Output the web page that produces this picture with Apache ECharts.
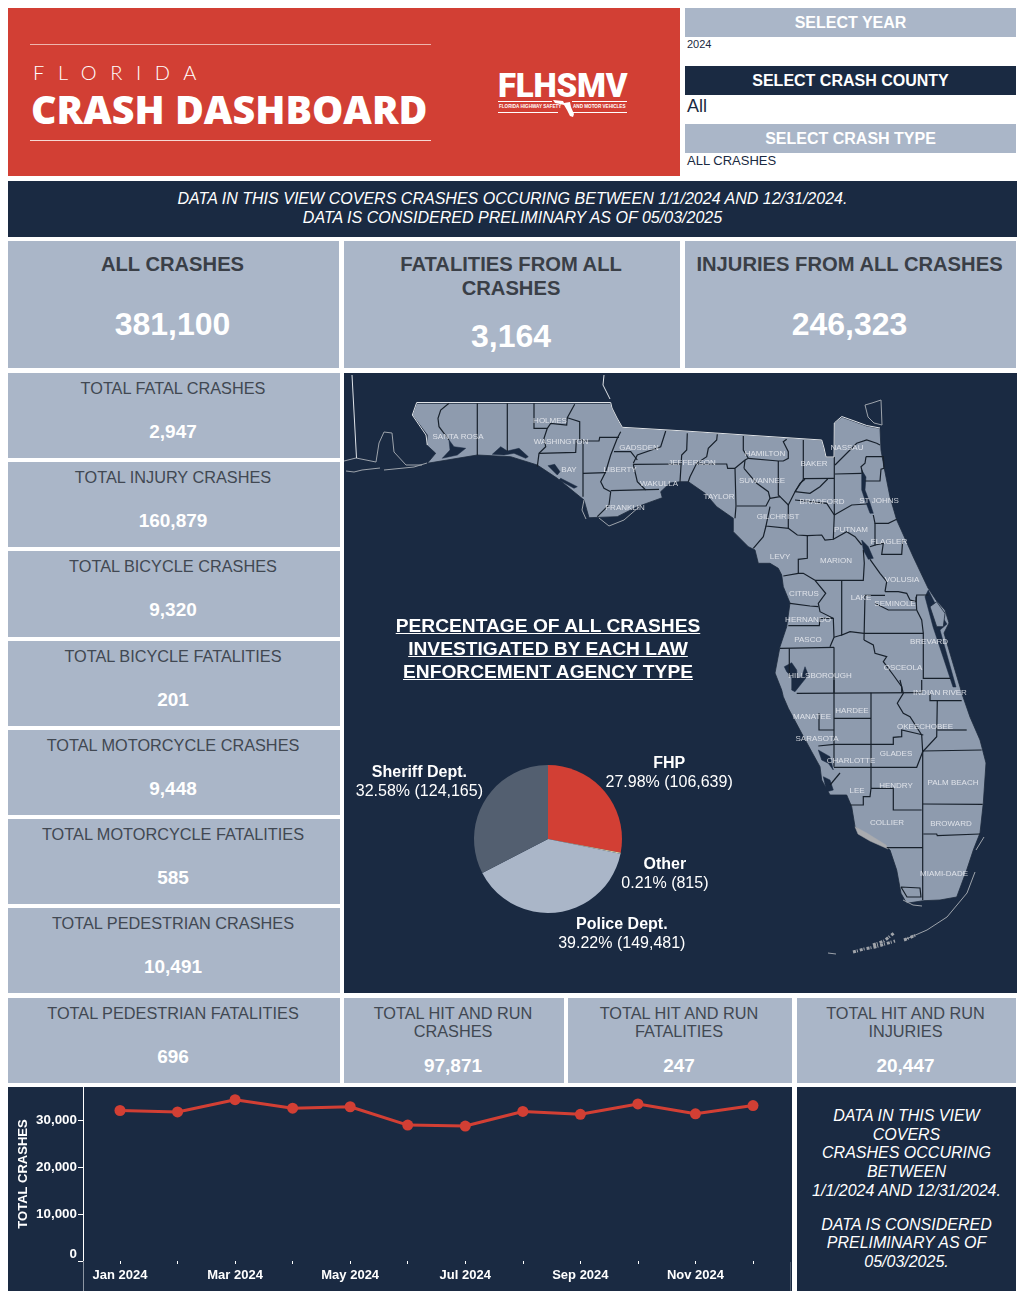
<!DOCTYPE html>
<html>
<head>
<meta charset="utf-8">
<title>Florida Crash Dashboard</title>
<script src="https://cdn.jsdelivr.net/npm/echarts@6/dist/echarts.min.js"></script>
<style>
  html, body { margin: 0; padding: 0; background: #fff; }
  body { width: 1023px; height: 1299px; position: relative; overflow: hidden; font-family: "Liberation Sans", Arial, sans-serif; }
  .box { position: absolute; }
  .navy { background: #1a2a42; }
  .card { background: #aab6c8; }
  .line { position: absolute; left: 0; right: 2px; text-align: center; white-space: nowrap; }
  .title { color: #414852; font-size: 16.3px; line-height: 18px; }
  .value { color: #fff; font-size: 19px; line-height: 24px; font-weight: bold; }
  .kpi .title { color: #3a3f47; font-size: 20.2px; line-height: 24px; font-weight: bold; }
  .kpi .value { font-size: 32px; line-height: 38px; }
  .filter { color: #fff; font-size: 16px; font-weight: bold; line-height: 29px; text-align: center; }
  .picked { color: #1a2a42; white-space: nowrap; }
  #pieTitle { color: #fff; font-weight: bold; font-size: 19.2px; line-height: 23px; text-align: center; text-decoration: underline; }
</style>
</head>
<body>

<div class="box" style="left:8px;top:8px;width:672px;height:168px;background:#d23f34"></div>
<div class="box" style="left:30px;top:44px;width:401px;height:1px;background:#eeb5ad"></div>
<div class="box" style="left:30px;top:140px;width:401px;height:1px;background:#f6d8d3"></div>
<div class="box" style="left:33px;top:58px;color:#fff;font:300 20px Lato,sans-serif;letter-spacing:13.6px;line-height:28px">FLORIDA</div>
<div class="box" style="left:31px;top:84px;color:#fff;font:800 39.4px/50px 'Open Sans',sans-serif;white-space:nowrap">CRASH DASHBOARD</div>
<div class="box" style="left:498px;top:66px;color:#fff;font:900 33px/40px Roboto,sans-serif;letter-spacing:-0.2px">FLHSMV</div>
<div class="box" style="left:498px;top:101px;width:54px;height:1px;background:#fff"></div>
<div class="box" style="left:572px;top:101px;width:55px;height:1px;background:#fff"></div>
<div class="box" style="left:498px;top:112px;width:60px;height:1px;background:#fff"></div>
<div class="box" style="left:572px;top:112px;width:55px;height:1px;background:#fff"></div>
<div class="box" style="left:499px;top:104px;color:#fff;font:bold 4.6px/6px 'Liberation Sans',sans-serif;white-space:nowrap">FLORIDA HIGHWAY SAFETY</div>
<div class="box" style="left:573px;top:104px;color:#fff;font:bold 4.6px/6px 'Liberation Sans',sans-serif;white-space:nowrap">AND MOTOR VEHICLES</div>
<svg class="box" style="left:552px;top:98px" width="24" height="21"><polygon fill="#fff" points="1,2 11,3 12,5 18,4 19,9 22,16 21,19 18,18 15,12 12,7 8,6 3,5"/></svg>

<div class="box card filter" style="left:685px;top:8px;width:331px;height:29px">SELECT YEAR</div>
<div class="box picked" style="left:687px;top:37px;font-size:11px;line-height:14px">2024</div>
<div class="box navy filter" style="left:685px;top:66px;width:331px;height:29px">SELECT CRASH COUNTY</div>
<div class="box picked" style="left:687px;top:96px;font-size:18px;line-height:21px">All</div>
<div class="box card filter" style="left:685px;top:124px;width:331px;height:29px">SELECT CRASH TYPE</div>
<div class="box picked" style="left:687px;top:153px;font-size:13px;line-height:15px">ALL CRASHES</div>

<div class="box navy" style="left:8px;top:181px;width:1009px;height:56px;color:#fff;font-style:italic;font-size:16.05px;line-height:19px;text-align:center;padding-top:0">
  <div style="margin-top:8px">DATA IN THIS VIEW COVERS CRASHES OCCURING BETWEEN 1/1/2024 AND 12/31/2024.</div>
  <div>DATA IS CONSIDERED PRELIMINARY AS OF 05/03/2025</div>
</div>

<div id="cards"></div>

<div class="box navy" id="mapChart" style="left:344px;top:373px;width:673px;height:620px"></div>
<div class="box" id="pieTitle" style="left:344px;top:614px;width:408px">PERCENTAGE OF ALL CRASHES<br>INVESTIGATED BY EACH LAW<br>ENFORCEMENT AGENCY TYPE</div>

<div class="box navy" id="lineChart" style="left:8px;top:1087px;width:784px;height:204px"></div>
<div class="box" style="left:83px;top:1262px;width:1px;height:29px;background:#8d96a3"></div>
<div class="box" style="left:790px;top:1262px;width:1px;height:29px;background:#4d5a6c"></div>

<div class="box navy" style="left:797px;top:1087px;width:219px;height:204px;color:#fff;font-style:italic;font-size:16px;line-height:18.7px;text-align:center">
  <div style="margin-top:20px">DATA IN THIS VIEW<br>COVERS<br>CRASHES OCCURING<br>BETWEEN<br>1/1/2024 AND 12/31/2024.</div>
  <div style="margin-top:15px">DATA IS CONSIDERED<br>PRELIMINARY AS OF<br>05/03/2025.</div>
</div>

<script>
// dashboard numbers
const kpiTitles = [['ALL CRASHES'], ['FATALITIES FROM ALL', 'CRASHES'], ['INJURIES FROM ALL CRASHES']];
const kpiValues = ['381,100', '3,164', '246,323'];
const sideTitles = ['TOTAL FATAL CRASHES', 'TOTAL INJURY CRASHES', 'TOTAL BICYCLE CRASHES', 'TOTAL BICYCLE FATALITIES',
    'TOTAL MOTORCYCLE CRASHES', 'TOTAL MOTORCYCLE FATALITIES', 'TOTAL PEDESTRIAN CRASHES', 'TOTAL PEDESTRIAN FATALITIES'];
const sideValues = ['2,947', '160,879', '9,320', '201', '9,448', '585', '10,491', '696'];
const hitRunTitles = [['TOTAL HIT AND RUN', 'CRASHES'], ['TOTAL HIT AND RUN', 'FATALITIES'], ['TOTAL HIT AND RUN', 'INJURIES']];
const hitRunValues = ['97,871', '247', '20,447'];

// monthly crashes
const months = ['Jan 2024', 'Feb 2024', 'Mar 2024', 'Apr 2024', 'May 2024', 'Jun 2024', 'Jul 2024', 'Aug 2024', 'Sep 2024', 'Oct 2024', 'Nov 2024', 'Dec 2024'];
const monthlyCrashes = [32000, 31700, 34300, 32500, 32800, 28900, 28700, 31800, 31200, 33400, 31300, 33050];

// agency split
const agencyNames = ['FHP', 'Other', 'Police Dept.', 'Sheriff Dept.'];
const agencyCrashes = [106639, 815, 149481, 124165];
const agencyShares = ['27.98%', '0.21%', '39.22%', '32.58%'];

// map geometry, traced in the map's own units
const stateOutline = [[72.7,28.3],[266.7,28.3],[268,33],[273,43],[278.3,52.3],[336,55.7],[477.7,65],[480,73],[482,82],[490,82],[490.3,48],[497.7,42],[509,46],[522.7,51],[536,53.3],[537,75],[540,92],[546,122],[552.7,145],[569.3,182],[584,213],[592,225],[601,235],[605,248],[600,258],[616,312],[617.7,318],[626,342],[636,365],[642,388],[639.3,428],[636,458],[629.3,475],[622.7,495],[612.7,522],[596,525],[579.3,525.7],[562.7,528.3],[557,518.3],[552.7,495],[546,475],[539.3,470],[522.7,461.7],[511,451.7],[507.7,431.7],[502.7,420],[486,420],[477.7,405],[476,391.7],[467.7,376.7],[457.7,358.3],[444.3,333.3],[439.3,321.7],[437.7,315],[431,298],[436,271.7],[442.7,251.7],[446,228],[439.3,211.7],[437.7,200],[434.3,193.3],[426,188.3],[414.3,188.3],[411,175],[404.3,171.7],[389.3,156.7],[389.3,143.3],[372.7,131.7],[361,118.3],[344.3,106.7],[336,106.7],[326,108],[316.7,116.7],[318.3,122.7],[293.3,131.7],[273.3,141.7],[245,142.7],[240,125],[213.3,103.3],[193.3,90],[166.7,81.7],[133.3,80],[83.3,88.3],[91.7,78.3],[82.7,70],[83.3,60],[68.3,40]];
const waterBodies = [
    [[105,65],[110,71.7],[121.7,73.3],[113.3,80],[98.3,83.3],[106,75]],
    [[148.3,79.3],[156.7,71.7],[163.3,76],[175,73.3],[184.3,81.7],[181.7,83.3],[170,78.3],[160,80]],
    [[204,90.7],[210.7,89.3],[216,96.7],[213.3,100]],
    [[216.7,103.3],[233.3,111.7],[230,113.3],[215,105]],
    [[517.7,95],[522,102],[521,115],[526,128],[529.3,138.3],[526,138.3],[521,125],[517.7,115]],
    [[517.7,165],[524.3,171.7],[529.3,183.3],[524.3,184.3],[519.3,175]],
    [[581,221.7],[584.3,215],[597,240],[603,249],[596,255],[612,312],[609,312],[589,251.7]],
    [[440.3,291.7],[447.7,287.7],[452.7,295],[453.3,303.3],[457.7,301.7],[461,291.7],[464.3,300],[457.7,308.3],[451,316.7],[447.7,315],[447.7,302],[442.7,296.7]],
    [[474.3,375],[486,381.7],[489.3,395],[484.3,388.3],[477.7,385]],
    [[479.3,401.7],[486,405],[489.3,415],[482.7,416.7]]
];
const merrittIsland = [[586,231.7],[592.7,226.7],[601,238.3],[599.3,251.7],[592.7,251.7]];
const shoals = [[511,451.7],[522.7,458],[542,470],[544,474],[526,466],[514,459]];
const countyLines = [
    [[105,28.3],[96.7,35],[94,43.3],[95,51.7],[105,65]],
    [[133.3,28.3],[133.3,80]],
    [[163.3,28.3],[163.3,76]],
    [[190,28.3],[190,53.3],[203.3,53.3],[206.7,48.3],[222.7,50],[223.3,42.7],[230.7,29.3]],
    [[203.3,53.3],[200,63.3],[201.7,71.7],[195,78.3],[193.3,91.7]],
    [[195,78.3],[231.7,77.3],[232.3,65]],
    [[223.3,42.7],[235.7,46.7],[235.7,65],[239,65]],
    [[239,65],[239,121.7]],
    [[239,66],[255,66],[255.7,62.3],[275,62.3]],
    [[276.7,56.7],[273.3,63.3],[266.7,80],[261.7,96.7],[256.7,106.7],[260,113.3],[266.7,116.7]],
    [[239,98.3],[261.7,97.7]],
    [[266.7,116.7],[265,130],[253.3,141.7]],
    [[266.7,115.7],[315,114.3]],
    [[321.7,56],[316.7,71.7],[293.3,80],[289.3,88.3]],
    [[270,76.7],[286.7,76.7],[293.3,85]],
    [[289.3,89.3],[336.7,89]],
    [[289.3,89.3],[293.3,106.7],[301.7,115]],
    [[343.3,58.3],[342.7,75],[337.7,80],[336,106.7]],
    [[373.3,59.3],[372.7,65],[364.3,73.3],[362.7,81.7],[352.7,88.3],[346,101.7],[344.3,106.7]],
    [[352.7,89],[382.7,89],[383.7,93.3],[391,93.3]],
    [[399.3,61],[399.3,75],[404.3,83.3],[401,85],[391,93.3]],
    [[391,93.3],[392,131],[391,143.3]],
    [[400,93.3],[412.7,108.3],[424.3,116.7],[426,123.3],[422,131],[392.7,131]],
    [[401,85],[400,93.3]],
    [[404.3,83.3],[434.3,86],[439.3,86],[444.3,83.3],[444.3,76.7],[439.3,66.7],[442.7,64.3]],
    [[434.3,86],[434.3,120],[436,121.7]],
    [[459.3,65],[459.3,104.3],[451,116.7],[444.3,130],[436,121.7],[426,123.3]],
    [[459.3,103.7],[490.3,103.3]],
    [[490.3,81.7],[490.3,140]],
    [[491,90],[506,75],[512.7,68.3],[522.7,65],[532.7,68.3],[536,70]],
    [[491,99],[517.7,98.3]],
    [[522,81.7],[539.3,81.7],[540,93.3],[537,94.3],[536,106],[521,106]],
    [[522,81.7],[521,88.3],[517,91.7],[518.7,98.3]],
    [[451,116.7],[466,118.3],[476,111.7],[483.7,104]],
    [[451,116.7],[456,108.3],[461,104.3]],
    [[451,125],[482.7,128.3],[490.3,140]],
    [[490.3,140],[507.7,130],[522.7,129]],
    [[444.3,130],[444.3,153.3],[422,151],[426,131.7]],
    [[422,151],[419.3,161.7],[409.3,173.3]],
    [[444.3,153.3],[453.3,160],[463.3,160.7],[477.7,160],[481,165],[489.3,164.3],[490.3,140]],
    [[463.3,160.7],[463.3,183.3],[454.3,184.3],[454.3,198.3]],
    [[439.3,201],[454.3,198.3],[459.3,198.3],[471,205.3]],
    [[471,205.3],[519.3,205.3],[520.3,188.3],[519.3,175]],
    [[489.3,164.3],[502.7,156.7],[511,161.7],[517.7,170]],
    [[529.3,140],[531,148.3],[544.3,148.3],[552.7,144.3]],
    [[531,148.3],[531,170],[526,171.7]],
    [[531,170],[539.3,168.3],[537.7,179.3],[557.7,179.3],[558.7,165]],
    [[526,184.3],[536,198.3],[542.7,206.7],[541,216.7]],
    [[541,216.7],[554.3,216.7],[562.7,218.3],[566,225],[572,226.7],[572.7,220],[584.3,220]],
    [[541,220.3],[521,220.3],[520,265]],
    [[531,228.3],[544.3,235],[572,235]],
    [[572,221.7],[572.7,235],[577.7,245],[579.3,258.3],[579.3,303.3],[606.7,303.3]],
    [[520,258.3],[579.3,258.3]],
    [[520,265],[529.3,270],[531,278.3],[542.7,281.7],[539.3,286.7],[549.3,300],[557.7,311.7],[557.7,317.7]],
    [[497.7,205.3],[497.7,260],[506,256.7],[520,258.3]],
    [[471,205.3],[481.7,218.3],[474.3,228.3],[476,236.7],[489.3,243.3],[490,262.3],[486,271.7]],
    [[446,228.3],[466,231],[474.3,231.7]],
    [[444.3,250.7],[475.3,250.7],[476,243.3],[489.3,243.3]],
    [[436,273.3],[490,272.3]],
    [[490,262.3],[497.7,260]],
    [[490,272.3],[490,318.3]],
    [[445.3,273.3],[445.3,301.7]],
    [[452.7,318.3],[577.7,317.7]],
    [[490,305],[490,391.7]],
    [[527,317.7],[527,413.3]],
    [[490,343.3],[527,343.3]],
    [[475,338.3],[475,355],[490,355]],
    [[474.3,371],[490,369.3],[549.3,369.3],[549.3,362.3],[557.7,361.7],[557.7,355],[579.3,360]],
    [[490,392.3],[572.7,392.3],[578.7,376.7]],
    [[527,413.3],[549.3,413.3],[549.3,435],[577.7,435]],
    [[506,430],[519.3,430],[519.3,421.7],[526,421.7],[527,413.3]],
    [[577.7,360],[578.7,376.7],[592.7,361.7],[593.3,325.7]],
    [[556,305],[559.3,318.3],[553.3,328.3],[559.3,338.3],[566,341.7],[577.7,360]],
    [[577.7,305],[577.7,317.7]],
    [[586,318.3],[586,325.7],[617.7,325.7]],
    [[593.3,355],[622.7,355]],
    [[578.7,376],[637.7,375]],
    [[578.7,429],[638.7,429.3]],
    [[579.3,459],[592.7,459],[593.3,460.7],[636,459]],
    [[578.7,376.7],[578.7,525]],
    [[542.7,472.7],[578.7,472.7]],
    [[496,398],[486,410]],
    [[557,512],[576,513],[577,522],[563,522],[557,512]]
];
const stateLines = [
    [[68.3,40],[72.7,27.5],[266.7,27.5],[268,33],[273,43],[278.3,52.3],[336,55.7],[477.7,65],[480,73],[482,82],[490,82],[490.3,48],[497.7,41.5],[509,45.5],[522.7,50.5],[536,53]],
    [[68.3,40],[82,60],[83.3,70]],
    [[8,0],[12.5,83]],
    [[260,0],[259,10],[266,24]]
];
const coastLines = [
    [[0,86],[12,83],[32,87],[35,68],[40,57],[48,58],[50,77],[62,90],[78,90]],
    [[2,96],[10,97],[18,95],[36,93]],
    [[40,95],[70,92],[83,88]],
    [[240,125],[238,135],[242,144]],
    [[255,143],[265,151],[280,145],[295,132]],
    [[521,30],[528,28],[537,25],[538,50],[530,48],[524,42],[521,30]],
    [[559,525],[569,530],[578,531]],
    [[560,565],[583,555],[603,542],[623,518],[631,497]],
    [[484,578],[492,579]],
    [[640,462],[632,475]]
];
const keysLines = [
    [[509,577],[520,574],[531,572],[551,566]],
    [[529,570],[540,566],[550,558]],
    [[560,565],[572,560]]
];
const countyNames = ['SANTA ROSA','HOLMES','WASHINGTON','GADSDEN','BAY','LIBERTY','JEFFERSON','WAKULLA','FRANKLIN','TAYLOR','HAMILTON','SUWANNEE','BAKER','NASSAU','BRADFORD','ST JOHNS','GILCHRIST','PUTNAM','FLAGLER','LEVY','MARION','VOLUSIA','CITRUS','LAKE','SEMINOLE','HERNANDO','PASCO','BREVARD','OSCEOLA','HILLSBOROUGH','INDIAN RIVER','MANATEE','HARDEE','OKEECHOBEE','SARASOTA','GLADES','CHARLOTTE','PALM BEACH','HENDRY','LEE','COLLIER','BROWARD','MIAMI-DADE'];
const countySpots = [[114,62],[206,46],[217,67],[295,73],[225,95],[276,95],[348,88],[315,109],[281,133],[375,122],[421,79],[418,106],[470,89],[503,73],[478,127],[535,126],[434,142],[507,155],[545,167],[436,182],[492,186],[558,205],[460,219],[517,223],[551,229],[464,245],[464,265],[585,267],[559,293],[476,301],[596,318],[468,342],[508,336],[581,352],[473,364],[552,379],[507,386],[609,408],[552,411],[513,416],[543,448],[607,449],[600,499]];

// --- cards ---
const cardsEl = document.getElementById('cards');

function addCard(x, y, w, h, titles, value, titleTop, valueTop, extra) {
    const el = document.createElement('div');
    el.className = 'box card ' + (extra || '');
    el.style.cssText = `left:${x}px;top:${y}px;width:${w}px;height:${h}px`;
    titles.forEach((t, i) => {
        const d = document.createElement('div');
        d.className = 'line title';
        d.style.top = titleTop + i * (extra ? 24 : 18) + 'px';
        d.textContent = t;
        el.appendChild(d);
    });
    const v = document.createElement('div');
    v.className = 'line value';
    v.style.top = valueTop + 'px';
    v.textContent = value;
    el.appendChild(v);
    cardsEl.appendChild(el);
}

const kpiBoxes = [[8, 331], [344, 336], [685, 331]];
kpiTitles.forEach((titles, i) => {
    addCard(kpiBoxes[i][0], 241, kpiBoxes[i][1], 127, titles, kpiValues[i], 11, titles.length > 1 ? 76 : 64, 'kpi');
});

const sideTops = [373, 462, 551, 641, 730, 819, 908, 998];
const sideHeights = [85, 85, 86, 85, 85, 85, 85, 85];
sideTitles.forEach((t, i) => {
    addCard(8, sideTops[i], 332, sideHeights[i], [t], sideValues[i], 6, 47);
});

const hitRunBoxes = [[344, 220], [568, 224], [797, 219]];
hitRunTitles.forEach((titles, i) => {
    addCard(hitRunBoxes[i][0], 998, hitRunBoxes[i][1], 85, titles, hitRunValues[i], 6, 56);
});

// --- map + pie ---
const flGeo = {
    type: 'FeatureCollection',
    features: [
        { type: 'Feature', properties: { name: 'Florida' }, geometry: { type: 'Polygon', coordinates: [stateOutline] } },
        { type: 'Feature', properties: { name: 'Shoals' }, geometry: { type: 'Polygon', coordinates: [shoals] } },
        { type: 'Feature', properties: { name: 'Water' }, geometry: { type: 'MultiPolygon', coordinates: waterBodies.map((w) => [w]) } },
        { type: 'Feature', properties: { name: 'Merritt' }, geometry: { type: 'Polygon', coordinates: [merrittIsland] } },
    ],
};
// rings must close for the loader
flGeo.features.forEach((f) => {
    const rings = f.geometry.type === 'Polygon' ? f.geometry.coordinates : f.geometry.coordinates.flat();
    rings.forEach((r) => { r.push(r[0].slice()); });
});
echarts.registerMap('florida', flGeo);

const mapChart = echarts.init(document.getElementById('mapChart'));
const NAVY = '#1a2a42';
const pieLabelShift = { 'FHP': [-46, -9], 'Other': [-49, 18], 'Police Dept.': [-37, 7], 'Sheriff Dept.': [46, -11] };

mapChart.setOption({
    animation: false,
    backgroundColor: NAVY,
    geo: {
        map: 'florida',
        projection: { project: (p) => p, unproject: (p) => p },
        boundingCoords: [[0, 0], [673, 618]],
        left: 0, top: 2, width: 673, height: 618,
        roam: false,
        silent: true,
        label: { show: false },
        itemStyle: { areaColor: '#8e9bae', borderColor: '#1c2a3c', borderWidth: 0.8 },
        regions: [
            { name: 'Water', itemStyle: { areaColor: NAVY, borderColor: NAVY, borderWidth: 0.5 } },
            { name: 'Merritt', itemStyle: { areaColor: '#8e9bae', borderColor: '#1c2a3c', borderWidth: 0.8 } },
            { name: 'Shoals', itemStyle: { areaColor: '#a9abaf', borderColor: '#a9abaf', borderWidth: 0.5 } },
        ],
    },
    series: [
        {
            type: 'lines', coordinateSystem: 'geo', polyline: true, silent: true,
            lineStyle: { color: '#9da3ab', width: 1, opacity: 1 },
            data: coastLines.map((c) => ({ coords: c })),
        },
        {
            type: 'lines', coordinateSystem: 'geo', polyline: true, silent: true,
            lineStyle: { color: '#a0a4aa', width: 3, type: [3, 1, 1, 2], opacity: 1 },
            data: keysLines.map((c) => ({ coords: c })),
        },
        {
            type: 'lines', coordinateSystem: 'geo', polyline: true, silent: true,
            lineStyle: { color: '#17202b', width: 1.2, opacity: 1 },
            data: countyLines.map((c) => ({ coords: c })),
        },
        {
            type: 'lines', coordinateSystem: 'geo', polyline: true, silent: true,
            lineStyle: { color: '#dfe3e8', width: 1, opacity: 1 },
            data: stateLines.map((c) => ({ coords: c })),
        },
        {
            type: 'scatter', coordinateSystem: 'geo', symbolSize: 0, silent: true,
            label: { show: true, position: 'inside', formatter: '{b}', color: '#f2f4f7', fontSize: 8, fontFamily: 'Liberation Sans' },
            data: countyNames.map((n, i) => ({ name: n, value: countySpots[i] })),
        },
        {
            type: 'pie',
            left: -300,
            right: -300,
            center: [504, 466],
            radius: [0, 74],
            startAngle: 90,
            silent: true,
            label: {
                color: '#fff',
                fontFamily: 'Liberation Sans',
                lineHeight: 19,
                overflow: 'none',
                formatter: (p) => `{b|${p.name}}\n{v|${agencyShares[p.dataIndex]} (${p.value.toLocaleString('en-US')})}`,
                rich: {
                    b: { fontSize: 16, fontWeight: 'bold', color: '#fff', align: 'center', lineHeight: 19 },
                    v: { fontSize: 16, color: '#fff', align: 'center', lineHeight: 19 },
                },
            },
            labelLine: { show: false },
            labelLayout: (p) => {
                const s = pieLabelShift[agencyNames[p.dataIndex]];
                return { dx: s[0], dy: s[1], hideOverlap: false };
            },
            data: agencyNames.map((n, i) => ({
                name: n,
                value: agencyCrashes[i],
                itemStyle: { color: ['#d23f34', '#e9dcae', '#aab6c8', '#535f70'][i] },
            })),
        },
    ],
});

// --- monthly line ---
const lineChart = echarts.init(document.getElementById('lineChart'));
lineChart.setOption({
    animation: false,
    backgroundColor: NAVY,
    grid: { left: 112, right: 39, top: 0, bottom: 30, outerBoundsMode: 'none' },
    xAxis: {
        type: 'category',
        data: months,
        boundaryGap: false,
        axisLine: { show: false },
        axisTick: { show: true, length: 3, interval: 0, lineStyle: { color: '#fff' } },
        axisLabel: { color: '#fff', fontSize: 13, fontWeight: 'bold', fontFamily: 'Liberation Sans', interval: 1, margin: 8, hideOverlap: false },
        splitLine: { show: false },
    },
    yAxis: {
        type: 'value',
        min: 0,
        max: 37000,
        offset: 37,
        name: 'TOTAL CRASHES',
        nameLocation: 'middle',
        nameGap: 53,
        nameMoveOverlap: false,
        nameTextStyle: { color: '#fff', fontSize: 13, fontWeight: 'bold', fontFamily: 'Liberation Sans' },
        axisLine: { show: true, lineStyle: { color: '#fff', width: 1 } },
        axisTick: { show: true, length: 5, customValues: [0, 10000, 20000, 30000], lineStyle: { color: '#fff' } },
        axisLabel: {
            color: '#fff', fontSize: 13.4, fontWeight: 'bold', fontFamily: 'Liberation Sans',
            margin: 6,
            customValues: [0, 10000, 20000, 30000],
            verticalAlignMinLabel: 'bottom',
            formatter: (v) => v.toLocaleString('en-US'),
        },
        splitLine: { show: false },
    },
    series: [{
        type: 'line',
        data: monthlyCrashes,
        symbol: 'circle',
        symbolSize: 11,
        silent: true,
        lineStyle: { color: '#d23f34', width: 3 },
        itemStyle: { color: '#d23f34' },
    }],
});
</script>
</body>
</html>
